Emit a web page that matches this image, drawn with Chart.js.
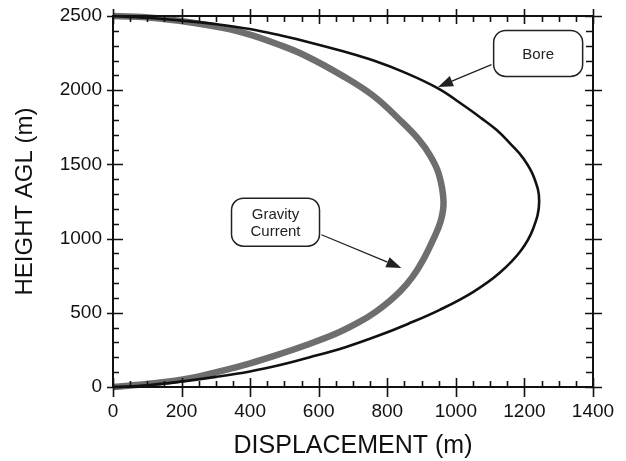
<!DOCTYPE html>
<html>
<head>
<meta charset="utf-8">
<script src="https://cdn.jsdelivr.net/npm/chart.js@4"></script>
<style>
  body { margin: 0; background: #fff; }
  canvas { display: block; }
</style>
</head>
<body>
<canvas id="dispChart" width="626" height="461"></canvas>
<script>
// Data (top of the profile first)
const xTicks = [0, 200, 400, 600, 800, 1000, 1200, 1400];
const yTicks = [0, 500, 1000, 1500, 2000, 2500];

const boreX = [0, 100, 204, 300, 399, 490, 574, 671, 760, 850, 948, 1020, 1074, 1120, 1162, 1197, 1228, 1243,
               1226, 1190, 1128, 1050, 953, 860, 773, 680, 574, 490, 399, 300, 204, 100, 0];
const boreY = [2500, 2488, 2468, 2445, 2412, 2368, 2322, 2262, 2200, 2120, 2012, 1902, 1812, 1730, 1632, 1540, 1412, 1250,
               1070, 920, 770, 640, 520, 425, 345, 270, 200, 150, 105, 68, 38, 12, 0];

const gravX = [0, 120, 233, 320, 399, 480, 560, 671, 760, 836, 892, 926, 951, 964,
               956, 933, 903, 873, 840, 807, 765, 720, 651, 560, 477, 400, 320, 233, 120, 0];
const gravY = [2500, 2487, 2455, 2420, 2375, 2310, 2234, 2095, 1961, 1801, 1667, 1555, 1430, 1250,
               1120, 990, 850, 740, 650, 580, 505, 440, 360, 280, 215, 160, 110, 63, 25, 0];

const FONT = "'Liberation Sans', Arial, Helvetica, sans-serif";

function toPoints(xs, ys) {
  return xs.map((x, i) => ({ x: x, y: ys[i] }));
}

// Callout boxes: box centre, arrow start and arrow tip in data units
const callouts = [
  { lines: ["Bore"], box: [1240, 2248], w: 89, h: 46, from: [1104, 2172], to: [948, 2022] },
  { lines: ["Gravity", "Current"], box: [474, 1111], w: 88, h: 48, from: [608, 1026], to: [841, 802] }
];

// Frame, crossing major ticks and inward minor ticks on all four sides
const framePlugin = {
  id: "frame",
  afterDraw(chart) {
    const c = chart.ctx;
    const xs = chart.scales.x, ys = chart.scales.y;
    const a = chart.chartArea;
    c.save();
    c.strokeStyle = "#111";
    c.lineWidth = 2;
    c.strokeRect(a.left, a.top, a.right - a.left, a.bottom - a.top);
    c.lineWidth = 1.6;
    c.beginPath();
    for (let v = 0; v <= 1400; v += 50) {
      const px = Math.round(xs.getPixelForValue(v)) + 0.5;
      if (v % 200 === 0) {
        c.moveTo(px, a.bottom + 10); c.lineTo(px, a.bottom - 9);
        c.moveTo(px, a.top - 7); c.lineTo(px, a.top + 8);
      } else {
        c.moveTo(px, a.bottom); c.lineTo(px, a.bottom - 6);
        c.moveTo(px, a.top); c.lineTo(px, a.top + 6);
      }
    }
    for (let v = 0; v <= 2500; v += 100) {
      const py = Math.round(ys.getPixelForValue(v)) + 0.5;
      if (v % 500 === 0) {
        c.moveTo(a.left - 6, py); c.lineTo(a.left + 10, py);
        c.moveTo(a.right - 8, py); c.lineTo(a.right + 9, py);
      } else {
        c.moveTo(a.left, py); c.lineTo(a.left + 6, py);
        c.moveTo(a.right, py); c.lineTo(a.right - 7, py);
      }
    }
    c.stroke();

    // callouts
    callouts.forEach(cb => {
      const cx = xs.getPixelForValue(cb.box[0]);
      const cy = ys.getPixelForValue(cb.box[1]);
      c.lineWidth = 1.5;
      c.strokeStyle = "#222";
      c.fillStyle = "#fff";
      c.beginPath();
      c.roundRect(cx - cb.w / 2, cy - cb.h / 2, cb.w, cb.h, 12);
      c.fill();
      c.stroke();
      c.fillStyle = "#222";
      c.font = "15px " + FONT;
      c.textAlign = "center";
      c.textBaseline = "middle";
      const lh = 17;
      cb.lines.forEach((t, i) => {
        c.fillText(t, cx, cy + 1 + (i - (cb.lines.length - 1) / 2) * lh);
      });

      const x0 = xs.getPixelForValue(cb.from[0]), y0 = ys.getPixelForValue(cb.from[1]);
      const x1 = xs.getPixelForValue(cb.to[0]), y1 = ys.getPixelForValue(cb.to[1]);
      const ang = Math.atan2(y1 - y0, x1 - x0);
      const len = 15, half = 5.5;
      const bx = x1 - len * Math.cos(ang), by = y1 - len * Math.sin(ang);
      c.lineWidth = 1.3;
      c.beginPath();
      c.moveTo(x0, y0);
      c.lineTo(bx, by);
      c.stroke();
      c.beginPath();
      c.moveTo(x1, y1);
      c.lineTo(bx + half * Math.sin(ang), by - half * Math.cos(ang));
      c.lineTo(bx - half * Math.sin(ang), by + half * Math.cos(ang));
      c.closePath();
      c.fill();
    });
    c.restore();
  }
};

const ctx = document.getElementById("dispChart").getContext("2d");

new Chart(ctx, {
  type: "line",
  data: {
    datasets: [
      {
        label: "Bore",
        data: toPoints(boreX, boreY),
        borderColor: "#111",
        borderWidth: 2.6
      },
      {
        label: "Gravity Current edge",
        data: toPoints(gravX, gravY),
        borderColor: "#6e6e6e",
        borderWidth: 6.5
      },
      {
        label: "Gravity Current",
        data: toPoints(gravX, gravY),
        borderColor: "#b0b0b0",
        borderWidth: 3
      }
    ]
  },
  options: {
    responsive: false,
    animation: false,
    devicePixelRatio: 1,
    layout: { padding: { top: 16, right: 33, left: 0, bottom: 0 } },
    elements: {
      point: { radius: 0 },
      line: { tension: 0.4, fill: false }
    },
    datasets: { line: { clip: false } },
    plugins: {
      legend: { display: false },
      tooltip: { enabled: false }
    },
    scales: {
      x: {
        type: "linear",
        position: "bottom",
        min: 0,
        max: 1400,
        afterFit(s) { s.height = 74; s.paddingLeft = 0; s.paddingRight = 0; },
        afterBuildTicks(s) { s.ticks = xTicks.map(v => ({ value: v })); },
        grid: { display: false, drawTicks: false },
        border: { display: false },
        ticks: {
          padding: 13,
          color: "#111",
          maxRotation: 0,
          callback: v => String(v),
          font: { family: FONT, size: 19 }
        },
        title: {
          display: true,
          text: "DISPLACEMENT (m)",
          color: "#111",
          padding: { top: 3, bottom: 0 },
          font: { family: FONT, size: 25 }
        }
      },
      y: {
        type: "linear",
        position: "left",
        min: 0,
        max: 2500,
        afterFit(s) { s.width = 113; s.paddingTop = 0; s.paddingBottom = 0; },
        afterBuildTicks(s) { s.ticks = yTicks.map(v => ({ value: v })); },
        grid: { display: false, drawTicks: false },
        border: { display: false },
        ticks: {
          padding: 11,
          color: "#111",
          callback: v => String(v),
          font: { family: FONT, size: 19 }
        },
        title: {
          display: true,
          text: "HEIGHT AGL (m)",
          color: "#111",
          padding: { top: 11, bottom: 0 },
          font: { family: FONT, size: 24 }
        }
      }
    }
  },
  plugins: [framePlugin]
});
</script>
</body>
</html>
